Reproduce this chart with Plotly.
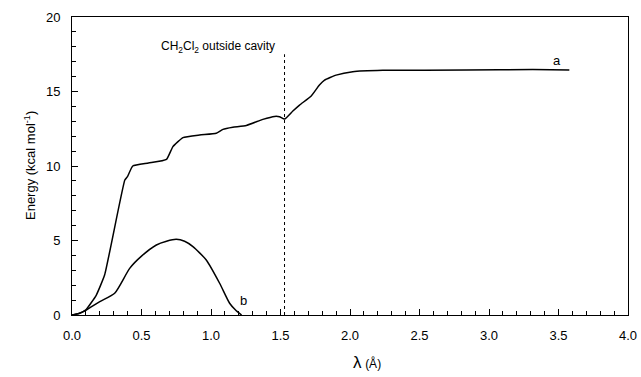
import plotly.graph_objects as go

# Curve a
a_x = [0.0, 0.05, 0.10, 0.175, 0.235, 0.38, 0.40, 0.437, 0.55, 0.68, 0.726, 0.798, 0.918, 1.038, 1.086,
       1.157, 1.254, 1.373, 1.457, 1.493, 1.529, 1.589, 1.637, 1.721, 1.78, 1.817, 1.90, 2.02, 2.236,
       2.835, 3.314, 3.578]
a_y = [0.0, 0.1, 0.35, 1.34, 2.7, 9.06, 9.3, 10.0, 10.2, 10.45, 11.3, 11.9, 12.08, 12.2, 12.46,
       12.6, 12.72, 13.13, 13.33, 13.31, 13.15, 13.69, 14.09, 14.7, 15.44, 15.77, 16.1, 16.33, 16.42,
       16.44, 16.47, 16.44]

# Curve b
b_x = [0.0, 0.05, 0.103, 0.2, 0.307, 0.415, 0.5, 0.607, 0.68, 0.75, 0.81, 0.87, 0.966, 1.062, 1.134, 1.18, 1.205, 1.22]
b_y = [0.0, 0.1, 0.33, 0.9, 1.46, 3.13, 3.95, 4.7, 4.95, 5.08, 4.95, 4.59, 3.69, 2.13, 0.79, 0.3, 0.11, 0.0]

# Dashed marker
dash_x = [1.529, 1.529]
dash_y = [0.0, 17.5]

x_ticks = [0.0, 0.5, 1.0, 1.5, 2.0, 2.5, 3.0, 3.5, 4.0]
x_labels = ["0.0", "0.5", "1.0", "1.5", "2.0", "2.5", "3.0", "3.5", "4.0"]
y_ticks = [0, 5, 10, 15, 20]
y_labels = ["0", "5", "10", "15", "20"]

font_family = "Liberation Sans, Arial, sans-serif"

fig = go.Figure()
fig.add_trace(go.Scatter(x=a_x, y=a_y, mode="lines", line=dict(color="black", width=1.5, shape="spline", smoothing=0.4)))
fig.add_trace(go.Scatter(x=b_x, y=b_y, mode="lines", line=dict(color="black", width=1.5, shape="spline", smoothing=0.6)))
fig.add_trace(go.Scatter(x=dash_x, y=dash_y, mode="lines", line=dict(color="black", width=1, dash="3px,3px")))

fig.add_annotation(x=1.05, y=18.0, text="CH<sub>2</sub>Cl<sub>2</sub> outside cavity", showarrow=False,
                   font=dict(size=12, color="black", family=font_family))
fig.add_annotation(x=3.49, y=17.1, text="a", showarrow=False, font=dict(size=13, color="black", family=font_family))
fig.add_annotation(x=1.237, y=0.95, text="b", showarrow=False, font=dict(size=13, color="black", family=font_family))
fig.add_annotation(xref="paper", yref="paper", x=0.53, y=-0.158, yanchor="middle",
                   text="<span style='font-size:17px'>λ</span> <span style='font-size:12px'>(Å)</span>",
                   showarrow=False, font=dict(color="black", family=font_family))
fig.add_annotation(xref="paper", yref="paper", x=-0.0935, y=0.5, textangle=-90,
                   text="Energy (kcal mol<sup>-1</sup>)", showarrow=False,
                   font=dict(size=13, color="black", family=font_family))

fig.update_layout(
    width=641, height=377,
    margin=dict(l=72, r=13, t=17, b=62),
    paper_bgcolor="white", plot_bgcolor="white",
    showlegend=False,
    font=dict(family=font_family, size=13, color="black"),
)
fig.update_xaxes(range=[0, 4.0], tickvals=x_ticks, ticktext=x_labels, ticks="inside", ticklen=6,
                 tickcolor="black", showline=True, linecolor="black", linewidth=1, mirror=True,
                 showgrid=False, zeroline=False, automargin=False, ticklabelstandoff=8,
                 minor=dict(dtick=0.1, ticks="inside", ticklen=4, tickcolor="black", showgrid=False))
fig.update_yaxes(range=[0, 20], tickvals=y_ticks, ticktext=y_labels, ticks="inside", ticklen=6,
                 tickcolor="black", showline=True, linecolor="black", linewidth=1, mirror=True,
                 showgrid=False, zeroline=False, automargin=False, ticklabelstandoff=8,
                 minor=dict(dtick=1, ticks="inside", ticklen=4, tickcolor="black", showgrid=False))

fig.write_html("out.html", config={"displayModeBar": False},
               post_script="document.body.style.margin='0';document.body.style.padding='0';")
